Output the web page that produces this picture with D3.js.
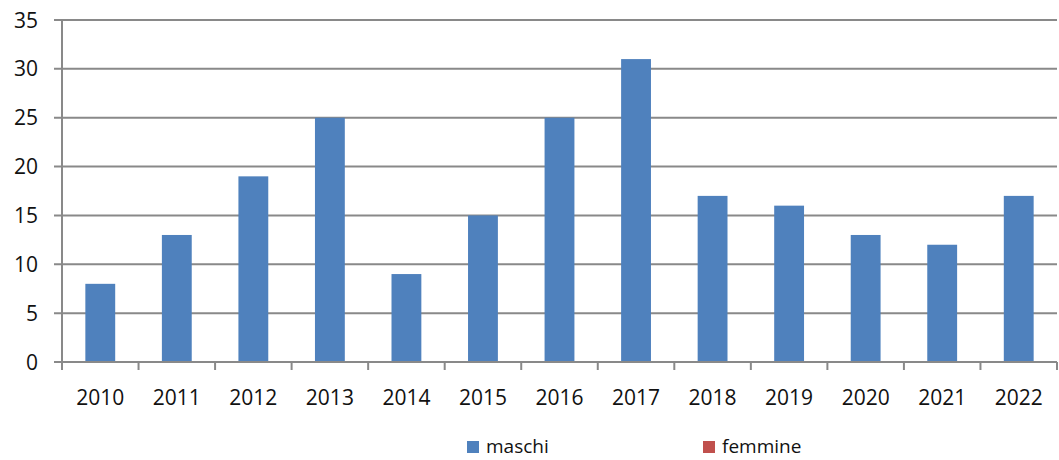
<!DOCTYPE html>
<html>
<head>
<meta charset="utf-8">
<script src="https://cdn.jsdelivr.net/npm/d3@7"></script>
<style>
  body { margin: 0; background: #fff; }
  svg text { font-family: "Open Sans", "DejaVu Sans", sans-serif; fill: #111; }
</style>
</head>
<body>
<div id="chart"></div>
<script>
// Data
const years = ["2010", "2011", "2012", "2013", "2014", "2015", "2016", "2017", "2018", "2019", "2020", "2021", "2022"];
const maschi = [8, 13, 19, 25, 9, 15, 25, 31, 17, 16, 13, 12, 17];
const femmine = [0, 0, 0, 0, 0, 0, 0, 0, 0, 0, 0, 0, 0];
const yTicks = [0, 5, 10, 15, 20, 25, 30, 35];
const seriesNames = ["maschi", "femmine"];
const seriesColors = ["#4F81BD", "#C0504D"];

const W = 1059, H = 460;
const margin = { top: 20, right: 2, bottom: 98, left: 62 };
const width = W - margin.left - margin.right;
const height = H - margin.top - margin.bottom;
const gridColor = "#898989";

const svg = d3.select("#chart").append("svg").attr("width", W).attr("height", H);
const g = svg.append("g").attr("transform", `translate(${margin.left},${margin.top})`);

const x = d3.scaleBand().domain(years).range([0, width]).paddingInner(0).paddingOuter(0);
const y = d3.scaleLinear().domain([0, 35]).range([height, 0]);

// Gridlines + y axis labels
g.selectAll(".grid").data(yTicks).enter().append("line")
    .attr("x1", -8).attr("x2", width)
    .attr("y1", d => y(d)).attr("y2", d => y(d))
    .attr("stroke", gridColor).attr("stroke-width", 2);

g.selectAll(".ylab").data(yTicks).enter().append("text")
    .attr("x", -24).attr("y", d => y(d)).attr("dy", "0.36em")
    .attr("text-anchor", "end").style("font-size", "21px")
    .text(d => d);

// Bars (series overlap, femmine all zero)
const barW = x.bandwidth() * 0.39;
[femmine, maschi].forEach((vals, k) => {
    const color = k === 0 ? seriesColors[1] : seriesColors[0];
    g.selectAll(".bar" + k).data(vals).enter().append("rect")
        .attr("x", (d, i) => x(years[i]) + (x.bandwidth() - barW) / 2)
        .attr("y", d => y(d))
        .attr("width", barW)
        .attr("height", d => height - y(d))
        .attr("fill", color);
});

// Axis lines
g.append("line").attr("x1", 0).attr("x2", 0).attr("y1", 0).attr("y2", height)
    .attr("stroke", gridColor).attr("stroke-width", 2);
g.append("line").attr("x1", 0).attr("x2", width).attr("y1", height).attr("y2", height)
    .attr("stroke", gridColor).attr("stroke-width", 2);

// X ticks at band edges
const edges = years.map(d => x(d)).concat([width]);
g.selectAll(".xtick").data(edges).enter().append("line")
    .attr("x1", d => d).attr("x2", d => d)
    .attr("y1", height).attr("y2", height + 8)
    .attr("stroke", gridColor).attr("stroke-width", 2);

g.selectAll(".xlab").data(years).enter().append("text")
    .attr("x", d => x(d) + x.bandwidth() / 2).attr("y", height + 43)
    .attr("text-anchor", "middle").style("font-size", "21px")
    .text(d => d);

// Legend
const legendX = [467, 703];
seriesNames.forEach((name, i) => {
    svg.append("rect").attr("x", legendX[i]).attr("y", 441).attr("width", 12).attr("height", 12)
        .attr("fill", seriesColors[i]);
    svg.append("text").attr("x", legendX[i] + 19).attr("y", 453)
        .style("font-size", "19px").text(name);
});
</script>
</body>
</html>
